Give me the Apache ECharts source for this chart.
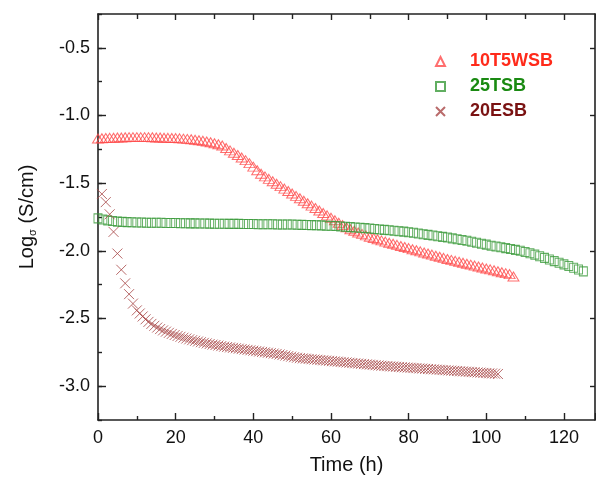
<!DOCTYPE html>
<html>
<head>
<meta charset="utf-8">
<script src="https://cdn.jsdelivr.net/npm/echarts@6/dist/echarts.min.js"></script>
<style>html,body{margin:0;padding:0;background:#fff}#c{width:596px;height:480px}</style>
</head>
<body>
<div id="c"></div>
<script>
var seriesNames = ['10T5WSB', '25TSB', '20ESB'];
var xTickLabels = [0, 20, 40, 60, 80, 100, 120];
var yTickLabels = [-3.0, -2.5, -2.0, -1.5, -1.0, -0.5];

var wsbTime = [0,1,2,3,4,5,6,7,8,9,10,11,12,13,14,15,16,17,18,19,20,21,22,23,24,25,26,27,28,29,30,31,32,33,34,35,36,37,38,39,40,41,42,43,44,45,46,47,48,49,50,51,52,53,54,55,56,57,58,59,60,61,62,63,64,65,66,67,68,69,70,71,72,73,74,75,76,77,78,79,80,81,82,83,84,85,86,87,88,89,90,91,92,93,94,95,96,97,98,99,100,101,102,103,104,105,106,107];
var wsbValues = [-1.170,-1.168,-1.166,-1.165,-1.164,-1.163,-1.162,-1.161,-1.160,-1.160,-1.160,-1.160,-1.160,-1.160,-1.161,-1.162,-1.163,-1.164,-1.165,-1.166,-1.167,-1.169,-1.171,-1.173,-1.176,-1.179,-1.183,-1.187,-1.192,-1.198,-1.205,-1.213,-1.222,-1.240,-1.258,-1.275,-1.292,-1.310,-1.330,-1.352,-1.378,-1.405,-1.430,-1.450,-1.468,-1.486,-1.504,-1.522,-1.540,-1.558,-1.576,-1.594,-1.612,-1.630,-1.648,-1.666,-1.684,-1.702,-1.720,-1.738,-1.756,-1.774,-1.792,-1.810,-1.826,-1.840,-1.852,-1.864,-1.875,-1.886,-1.896,-1.905,-1.914,-1.923,-1.932,-1.940,-1.948,-1.956,-1.964,-1.972,-1.980,-1.988,-1.996,-2.004,-2.012,-2.020,-2.028,-2.036,-2.044,-2.052,-2.060,-2.067,-2.074,-2.081,-2.088,-2.095,-2.102,-2.109,-2.116,-2.123,-2.130,-2.137,-2.144,-2.151,-2.158,-2.165,-2.172,-2.190];

var tsbTime = [0,1.25,2.5,3.75,5,6.25,7.5,8.75,10,11.25,12.5,13.75,15,16.25,17.5,18.75,20,21.25,22.5,23.75,25,26.25,27.5,28.75,30,31.25,32.5,33.75,35,36.25,37.5,38.75,40,41.25,42.5,43.75,45,46.25,47.5,48.75,50,51.25,52.5,53.75,55,56.25,57.5,58.75,60,61.25,62.5,63.75,65,66.25,67.5,68.75,70,71.25,72.5,73.75,75,76.25,77.5,78.75,80,81.25,82.5,83.75,85,86.25,87.5,88.75,90,91.25,92.5,93.75,95,96.25,97.5,98.75,100,101.25,102.5,103.75,105,106.25,107.5,108.75,110,111.25,112.5,113.75,115,116.25,117.5,118.75,120,121.25,122.5,123.75,125];
var tsbValues = [-1.760,-1.768,-1.775,-1.780,-1.784,-1.786,-1.788,-1.789,-1.790,-1.791,-1.792,-1.792,-1.793,-1.793,-1.794,-1.794,-1.795,-1.796,-1.796,-1.797,-1.797,-1.798,-1.798,-1.799,-1.800,-1.800,-1.800,-1.801,-1.801,-1.801,-1.802,-1.802,-1.802,-1.803,-1.803,-1.804,-1.804,-1.805,-1.805,-1.806,-1.806,-1.807,-1.808,-1.809,-1.810,-1.811,-1.812,-1.814,-1.815,-1.817,-1.820,-1.822,-1.825,-1.827,-1.830,-1.832,-1.835,-1.838,-1.842,-1.845,-1.848,-1.852,-1.855,-1.858,-1.862,-1.867,-1.872,-1.877,-1.882,-1.887,-1.892,-1.897,-1.902,-1.908,-1.914,-1.920,-1.926,-1.933,-1.940,-1.947,-1.954,-1.962,-1.968,-1.974,-1.980,-1.986,-1.993,-2.000,-2.008,-2.018,-2.028,-2.040,-2.052,-2.064,-2.076,-2.088,-2.100,-2.112,-2.125,-2.138,-2.152,-2.168];

var esbTime = [1,2,3,4,5,6,7,8,9,
  10,10.75,11.5,12.25,13,13.75,14.5,15.25,16,16.75,17.5,18.25,19,19.75,20.5,21.25,22,22.75,23.5,24.25,
  25,25.75,26.5,27.25,28,28.75,29.5,30.25,31,31.75,32.5,33.25,34,34.75,35.5,36.25,37,37.75,38.5,39.25,
  40,40.75,41.5,42.25,43,43.75,44.5,45.25,46,46.75,47.5,48.25,49,49.75,50.5,51.25,52,52.75,53.5,54.25,
  55,55.75,56.5,57.25,58,58.75,59.5,60.25,61,61.75,62.5,63.25,64,64.75,65.5,66.25,67,67.75,68.5,69.25,
  70,70.75,71.5,72.25,73,73.75,74.5,75.25,76,76.75,77.5,78.25,79,79.75,80.5,81.25,82,82.75,83.5,84.25,
  85,85.75,86.5,87.25,88,88.75,89.5,90.25,91,91.75,92.5,93.25,94,94.75,95.5,96.25,97,97.75,98.5,99.25,
  100,100.75,101.5,102.25,103];
var esbValues = [-1.58,-1.64,-1.73,-1.86,-2.02,-2.14,-2.24,-2.32,-2.39,
  -2.440,-2.463,-2.485,-2.506,-2.525,-2.540,-2.554,-2.567,-2.578,-2.588,-2.597,-2.606,-2.614,-2.622,-2.629,-2.635,-2.642,-2.648,-2.654,-2.660,
  -2.665,-2.670,-2.675,-2.680,-2.684,-2.689,-2.693,-2.696,-2.700,-2.704,-2.708,-2.711,-2.714,-2.717,-2.720,-2.723,-2.726,-2.729,-2.732,-2.735,
  -2.738,-2.741,-2.744,-2.747,-2.750,-2.753,-2.756,-2.759,-2.762,-2.766,-2.770,-2.774,-2.778,-2.782,-2.786,-2.790,-2.793,-2.795,-2.797,-2.799,
  -2.801,-2.803,-2.805,-2.807,-2.809,-2.811,-2.813,-2.815,-2.817,-2.819,-2.821,-2.823,-2.825,-2.827,-2.829,-2.831,-2.833,-2.835,-2.837,-2.839,
  -2.841,-2.843,-2.845,-2.847,-2.849,-2.851,-2.852,-2.854,-2.855,-2.857,-2.858,-2.860,-2.861,-2.863,-2.864,-2.866,-2.867,-2.869,-2.870,-2.872,
  -2.873,-2.875,-2.876,-2.878,-2.879,-2.881,-2.882,-2.884,-2.885,-2.887,-2.888,-2.890,-2.891,-2.893,-2.894,-2.896,-2.897,-2.899,-2.900,-2.902,
  -2.903,-2.905,-2.906,-2.908,-2.910];

function pairs(t, v) { return t.map(function (x, i) { return [x, v[i]]; }); }

var FONT = '"Liberation Sans", Arial, sans-serif';
var AX = '#222';
var chart = echarts.init(document.getElementById('c'), null, { renderer: 'canvas' });

var commonX = {
  type: 'value', min: 0, max: 128, interval: 20,
  axisLine: { show: true, lineStyle: { color: AX, width: 1.6 } },
  splitLine: { show: false }
};
var commonY = {
  type: 'value', min: -3.25, max: -0.25,
  splitLine: { show: false }
};

chart.setOption({
  animation: false,
  backgroundColor: '#fff',
  grid: { left: 98, top: 14, right: 1, bottom: 58, containLabel: false },
  legend: {
    orient: 'vertical', left: 430, top: 47,
    itemWidth: 9, itemHeight: 9, itemGap: 6,
    textStyle: { fontFamily: FONT, fontSize: 18, fontWeight: 'bold', padding: [0, 0, 0, 20], lineHeight: 19 },
    data: [
      { name: seriesNames[0], textStyle: { color: '#ff2a1a' } },
      { name: seriesNames[1], textStyle: { color: '#1a8a12' } },
      { name: seriesNames[2], textStyle: { color: '#7a1212' } }
    ]
  },
  xAxis: [
    Object.assign({}, commonX, {
      position: 'bottom',
      axisTick: { show: true, inside: true, length: 7, lineStyle: { color: AX, width: 1.4 } },
      minorTick: { show: true, splitNumber: 2, length: 4, lineStyle: { color: AX, width: 1.4 } },
      axisLabel: { show: true, fontFamily: FONT, fontSize: 18, color: '#111', margin: 9,
        customValues: xTickLabels },
      name: 'Time (h)', nameLocation: 'middle', nameGap: 35,
      nameTextStyle: { fontFamily: FONT, fontSize: 20, color: '#111' }
    }),
    Object.assign({}, commonX, {
      position: 'top',
      axisTick: { show: true, inside: true, length: 6, lineStyle: { color: AX, width: 1.4 } },
      minorTick: { show: true, splitNumber: 2, length: 5, lineStyle: { color: AX, width: 1.4 } },
      axisLabel: { show: false }
    })
  ],
  yAxis: [
    Object.assign({}, commonY, {
      position: 'left', interval: 0.25,
      axisLine: { show: true, lineStyle: { color: AX, width: 1.6 } },
      axisTick: { show: true, inside: true, length: 4, lineStyle: { color: AX, width: 1.4 } },
      axisLabel: { show: false }
    }),
    Object.assign({}, commonY, {
      position: 'left',
      axisLine: { show: false },
      axisTick: { show: true, inside: true, length: 8, customValues: yTickLabels, lineStyle: { color: AX, width: 1.4 } },
      axisLabel: { show: true, fontFamily: FONT, fontSize: 18, color: '#111', margin: 8, customValues: yTickLabels,
        formatter: function (v) { return v.toFixed(1); } },
      name: 'Log{s|σ} (S/cm)', nameLocation: 'middle', nameGap: 60, nameRotate: 90,
      nameTextStyle: { fontFamily: FONT, fontSize: 20, color: '#111',
        rich: { s: { fontFamily: FONT, fontSize: 11, color: '#111', verticalAlign: 'bottom', padding: [10, 0, 0, 0] } } }
    }),
    Object.assign({}, commonY, {
      position: 'right',
      axisLine: { show: true, lineStyle: { color: AX, width: 1.6 } },
      axisTick: { show: true, inside: true, length: 5, customValues: yTickLabels, lineStyle: { color: AX, width: 1.4 } },
      axisLabel: { show: false }
    })
  ],
  series: [
    {
      name: seriesNames[0], type: 'scatter', xAxisIndex: 0, yAxisIndex: 0,
      symbol: 'triangle', symbolSize: [11, 9],
      itemStyle: { color: 'rgba(0,0,0,0)', borderColor: '#ff4a4a', borderWidth: 1 },
      data: pairs(wsbTime, wsbValues)
    },
    {
      name: seriesNames[1], type: 'scatter', xAxisIndex: 0, yAxisIndex: 0,
      symbol: 'rect', symbolSize: [8, 9],
      itemStyle: { color: 'rgba(0,0,0,0)', borderColor: '#3a9a3a', borderWidth: 1 },
      data: pairs(tsbTime, tsbValues)
    },
    {
      name: seriesNames[2], type: 'scatter', xAxisIndex: 0, yAxisIndex: 0,
      symbol: 'path://M0,0L10,10M10,0L0,10', symbolSize: 10,
      itemStyle: { color: 'rgba(0,0,0,0)', borderColor: '#a84646', borderWidth: 1 },
      data: pairs(esbTime, esbValues)
    }
  ]
});
</script>
</body>
</html>
